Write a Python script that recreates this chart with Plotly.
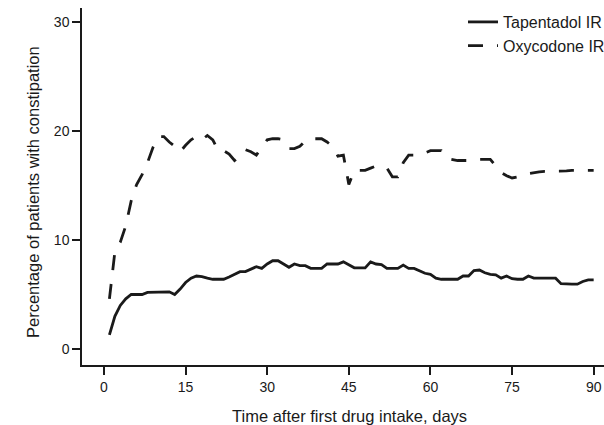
import plotly.graph_objects as go

# Days after first intake and daily share of patients with constipation (%)
days = list(range(1, 91))

tapentadol_ir = [
    1.3, 3.0, 4.0, 4.6, 5.0, 5.0, 5.0, 5.2, 5.2, 5.25,
    5.25, 5.25, 5.0, 5.5, 6.1, 6.5, 6.7, 6.65, 6.5, 6.4,
    6.4, 6.4, 6.6, 6.85, 7.1, 7.1, 7.35, 7.55, 7.4, 7.8,
    8.1, 8.1, 7.8, 7.5, 7.8, 7.65, 7.65, 7.4, 7.4, 7.4,
    7.8, 7.8, 7.8, 8.0, 7.75, 7.45, 7.45, 7.45, 8.0, 7.8,
    7.75, 7.4, 7.4, 7.4, 7.7, 7.4, 7.4, 7.2, 6.95, 6.85,
    6.5, 6.4, 6.4, 6.4, 6.4, 6.7, 6.7, 7.2, 7.25, 7.0,
    6.85, 6.8, 6.5, 6.7, 6.45, 6.4, 6.4, 6.7, 6.5, 6.5,
    6.5, 6.5, 6.5, 6.0, 5.95, 5.95, 5.95, 6.2, 6.35, 6.35,
]

oxycodone_ir = [
    4.6, 8.9, 9.8, 11.3, 13.6, 15.1, 16.0, 17.1, 18.5, 19.5,
    19.5, 19.0, 18.6, 18.1, 18.7, 19.2, 19.5, 19.2, 19.6, 19.2,
    18.2, 18.2, 17.9, 17.3, 17.7, 18.3, 18.1, 17.8, 18.5, 19.2,
    19.3, 19.3, 19.2, 18.4, 18.4, 18.6, 19.1, 19.3, 19.3, 19.3,
    19.0, 18.6, 17.7, 17.8, 15.1, 16.4, 16.4, 16.4, 16.6, 16.8,
    16.7, 16.6, 15.8, 15.8, 17.1, 17.8, 17.8, 17.8, 18.0, 18.2,
    18.2, 18.2, 17.5, 17.4, 17.3, 17.3, 17.3, 17.3, 17.4, 17.4,
    17.4, 16.8, 16.2, 15.9, 15.7, 15.8, 16.0, 16.1, 16.2, 16.25,
    16.3, 16.3, 16.3, 16.3, 16.35, 16.4, 16.4, 16.4, 16.4, 16.4,
]

x_ticks = [0, 15, 30, 45, 60, 75, 90]
y_ticks = [0, 10, 20, 30]

INK = "#1a1a1a"
FONT = "Liberation Sans, Arial, Helvetica, sans-serif"

fig = go.Figure()
fig.add_trace(go.Scatter(
    x=days, y=tapentadol_ir, mode="lines", name="Tapentadol IR",
    line=dict(color=INK, width=2.8),
))
fig.add_trace(go.Scatter(
    x=days, y=oxycodone_ir, mode="lines", name="Oxycodone IR",
    line=dict(color=INK, width=2.8, dash="15px,14px"),
))

axis_common = dict(
    showline=True, linecolor=INK, linewidth=1.5,
    ticks="outside", ticklen=8, tickwidth=1.5, tickcolor=INK,
    showgrid=False, zeroline=False,
    tickfont=dict(family=FONT, size=14, color=INK),
)

fig.update_layout(
    width=604, height=425,
    margin=dict(l=82, r=0, t=8, b=60, autoexpand=False),
    paper_bgcolor="white", plot_bgcolor="white",
    font=dict(family=FONT, color=INK),
    xaxis=dict(range=[-4.04, 91.9], tickvals=x_ticks, **axis_common),
    yaxis=dict(range=[-1.47, 31.3], tickvals=y_ticks, **axis_common),
    legend=dict(
        x=(463 - 82) / 522, y=1.0 + 3 / 357, xanchor="left", yanchor="top",
        font=dict(family=FONT, size=16, color=INK),
        bgcolor="rgba(0,0,0,0)", tracegroupgap=0,
    ),
    annotations=[
        dict(text="Time after first drug intake, days", xref="paper", yref="paper",
             x=(349 - 82) / 522, y=-(416 - 365) / 357, xanchor="center", yanchor="middle",
             showarrow=False, font=dict(family=FONT, size=16.5, color=INK)),
        dict(text="Percentage of patients with constipation", xref="paper", yref="paper",
             x=-(82 - 33) / 522, y=(365 - 192) / 357, xanchor="center", yanchor="middle",
             textangle=-90, showarrow=False, font=dict(family=FONT, size=16.5, color=INK)),
    ],
)

fig.write_html("out.html")
